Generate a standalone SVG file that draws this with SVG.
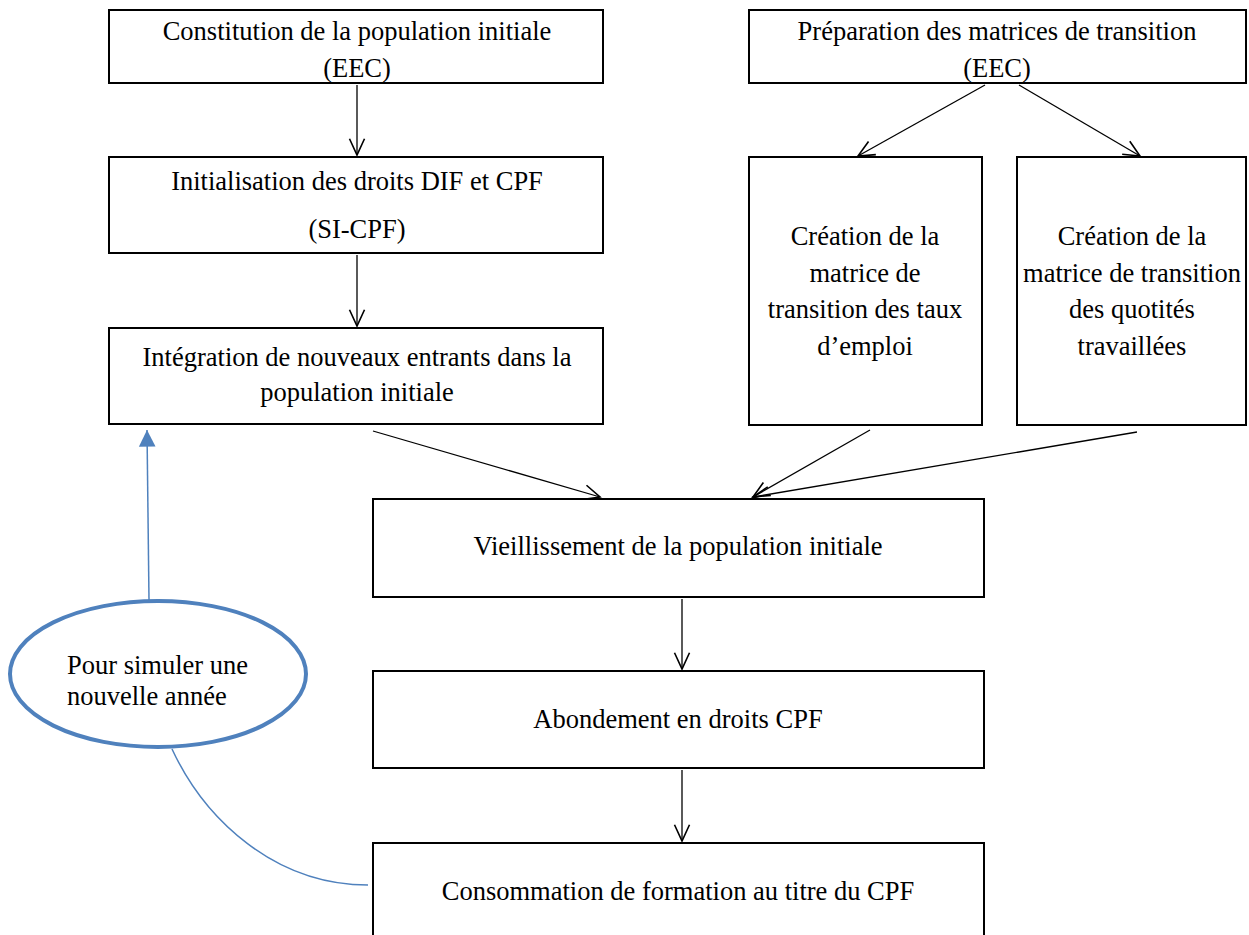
<svg xmlns="http://www.w3.org/2000/svg" width="1249" height="935" viewBox="0 0 1249 935">
<style>
.box{fill:#fff;stroke:#000;stroke-width:2}
.t{font-family:"Liberation Serif","Times New Roman",serif;font-size:26.5px;fill:#000;text-anchor:middle}
.tl{font-family:"Liberation Serif","Times New Roman",serif;font-size:26.5px;fill:#000}
.c{stroke:#000;stroke-width:1.3;fill:none;marker-end:url(#ah)}
.b{stroke:#4f81bd;stroke-width:1.5;fill:none}
</style>
<defs>
<marker id="ah" markerUnits="userSpaceOnUse" markerWidth="20" markerHeight="20" refX="0" refY="0" viewBox="-14 -8 16 16" orient="auto" overflow="visible">
<path d="M-13,-6 L0,0 L-13,6" fill="none" stroke="#000" stroke-width="1.3"/>
</marker>
<marker id="bh" markerUnits="userSpaceOnUse" markerWidth="20" markerHeight="20" refX="0" refY="0" viewBox="-16 -8 18 16" orient="auto" overflow="visible">
<path d="M-15,-7.5 L0,0 L-15,7.5 Z" fill="#4f81bd"/>
</marker>
</defs>
<rect width="1249" height="935" fill="#fff"/>
<g id="connectors">
<line class="c" x1="357" y1="85" x2="357" y2="155"/>
<line class="c" x1="357" y1="255" x2="357" y2="326"/>
<line class="c" x1="985" y1="85" x2="858" y2="156"/>
<line class="c" x1="1019" y1="85" x2="1140" y2="156"/>
<line class="c" x1="373" y1="431" x2="600" y2="497"/>
<line class="c" x1="870" y1="430" x2="753" y2="497"/>
<line class="c" x1="1137" y1="432" x2="753" y2="497"/>
<line class="c" x1="682" y1="599" x2="682" y2="669"/>
<line class="c" x1="682" y1="770" x2="682" y2="841"/>
<path class="b" d="M149,600 L147,430" marker-end="url(#bh)"/>
<path class="b" d="M172,749 C205,820 275,885 368,885"/>
</g>
<g id="n1">
<rect class="box" x="109" y="10" width="494" height="73"/>
<text class="t" x="357" y="40">Constitution de la population initiale</text>
<text class="t" x="357" y="77">(EEC)</text>
</g>
<g id="n2">
<rect class="box" x="749" y="10" width="497" height="73"/>
<text class="t" x="997" y="40">Préparation des matrices de transition</text>
<text class="t" x="997" y="77">(EEC)</text>
</g>
<g id="n3">
<rect class="box" x="109" y="157" width="494" height="96"/>
<text class="t" x="357" y="190">Initialisation des droits DIF et CPF</text>
<text class="t" x="357" y="238">(SI-CPF)</text>
</g>
<g id="n4">
<rect class="box" x="109" y="328" width="494" height="96"/>
<text class="t" x="357" y="366">Intégration de nouveaux entrants dans la</text>
<text class="t" x="357" y="401">population initiale</text>
</g>
<g id="n5">
<rect class="box" x="749" y="157" width="233" height="268"/>
<text class="t" x="865" y="245">Création de la</text>
<text class="t" x="865" y="282">matrice de</text>
<text class="t" x="865" y="318">transition des taux</text>
<text class="t" x="865" y="355">d’emploi</text>
</g>
<g id="n6">
<rect class="box" x="1017" y="157" width="229" height="268"/>
<text class="t" x="1132" y="245">Création de la</text>
<text class="t" x="1132" y="282">matrice de transition</text>
<text class="t" x="1132" y="318">des quotités</text>
<text class="t" x="1132" y="355">travaillées</text>
</g>
<g id="n7">
<rect class="box" x="373" y="499" width="611" height="98"/>
<text class="t" x="678" y="555">Vieillissement de la population initiale</text>
</g>
<g id="n8">
<rect class="box" x="373" y="671" width="611" height="97"/>
<text class="t" x="678" y="728">Abondement en droits CPF</text>
</g>
<g id="n9">
<rect class="box" x="373" y="843" width="611" height="100"/>
<text class="t" x="678" y="900">Consommation de formation au titre du CPF</text>
</g>
<g id="n10">
<ellipse cx="158" cy="674" rx="148" ry="73" fill="#fff" stroke="#4f81bd" stroke-width="4"/>
<text class="tl" x="67" y="674">Pour simuler une</text>
<text class="tl" x="67" y="705">nouvelle année</text>
</g>
</svg>
